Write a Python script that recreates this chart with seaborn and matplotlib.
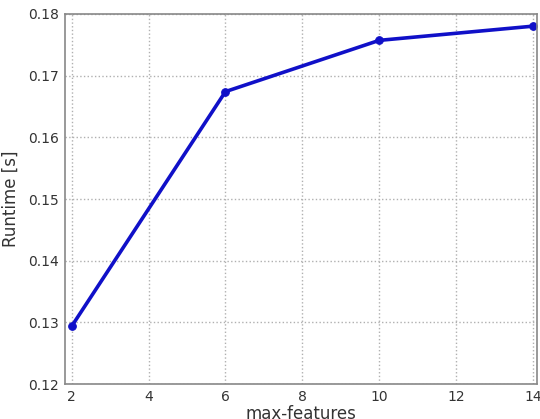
import matplotlib
matplotlib.use("Agg")
import matplotlib.pyplot as plt
import seaborn as sns
import pandas as pd

# ------------------ DATA ------------------

max_features = [2, 6, 10, 14]
runtime = [0.1294, 0.1674, 0.1757, 0.1780]

x_ticks = [2, 4, 6, 8, 10, 12, 14]
y_ticks = [0.12, 0.13, 0.14, 0.15, 0.16, 0.17, 0.18]

df = pd.DataFrame({"max-features": max_features, "Runtime [s]": runtime})

# ------------------ PLOT ------------------

sns.set_style("white")
plt.rcParams["font.family"] = ["DejaVu Sans"]

fig = plt.figure(figsize=(5.4, 4.19), dpi=100)
ax = fig.add_axes([0.12, 0.083, 0.874, 0.884])

sns.lineplot(
    data=df, x="max-features", y="Runtime [s]",
    color="#1010c8", linewidth=2.6, marker="o", markersize=5.5,
    markeredgecolor="#1010c8", ax=ax
)

ax.set_xlim(1.82, 14.1)
ax.set_ylim(0.12, 0.18)
ax.set_xticks(x_ticks)
ax.set_yticks(y_ticks)
ax.set_yticklabels([f"{v:.2f}" for v in y_ticks])

ax.grid(True, linestyle=":", color="#b0b0b0", linewidth=1.0)
for s in ax.spines.values():
    s.set_color("#888888")
    s.set_linewidth(1.2)

ax.tick_params(direction="in", length=4, color="#888888", labelsize=10,
               labelcolor="#333333", pad=4)
ax.set_xlabel("max-features", fontsize=12, color="#333333", labelpad=1)
ax.set_ylabel("Runtime [s]", fontsize=12, color="#333333", labelpad=6)

fig.savefig("out.png", dpi=100)
